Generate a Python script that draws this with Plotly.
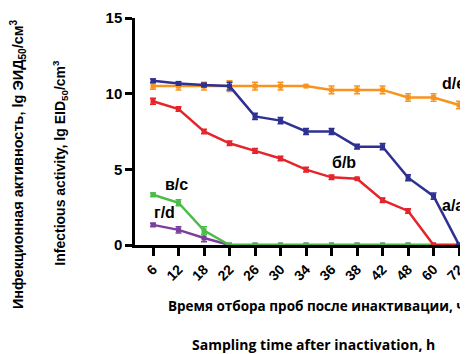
import plotly.graph_objects as go

hours = ["6", "12", "18", "22", "26", "30", "34", "36", "38", "42", "48", "60", "72"]
idx = list(range(len(hours)))

a_vals = [10.85, 10.68, 10.57, 10.5, 8.5, 8.22, 7.5, 7.5, 6.5, 6.5, 4.45, 3.23, 0]
a_err = [0.12, 0.1, 0.12, 0.25, 0.2, 0.2, 0.2, 0.2, 0.15, 0.2, 0.2, 0.2, 0]
b_vals = [9.5, 8.98, 7.5, 6.72, 6.22, 5.72, 4.98, 4.47, 4.38, 2.96, 2.25, 0, 0]
b_err = [0.2, 0.15, 0.15, 0.15, 0.15, 0.15, 0.15, 0.15, 0.05, 0.15, 0.15, 0, 0]
c_vals = [3.32, 2.79, 0.95, 0, 0, 0, 0, 0, 0, 0, 0, 0, 0]
c_err = [0.12, 0.2, 0.25, 0, 0, 0, 0, 0, 0, 0, 0, 0, 0]
d_vals = [1.33, 1.0, 0.46, 0, 0, 0, 0, 0, 0, 0, 0, 0, 0]
d_err = [0.1, 0.2, 0.25, 0, 0, 0, 0, 0, 0, 0, 0, 0, 0]
e_vals = [10.5, 10.5, 10.5, 10.5, 10.5, 10.5, 10.5, 10.25, 10.25, 10.25, 9.75, 9.75, 9.25]
e_err = [0.2, 0.25, 0.25, 0.35, 0.25, 0.25, 0.05, 0.25, 0.25, 0.25, 0.25, 0.25, 0.25]

series = [
    ("г/d", d_vals, d_err, "#7b3f9e"),
    ("в/c", c_vals, c_err, "#4cbb47"),
    ("d/e", e_vals, e_err, "#f7931e"),
    ("б/b", b_vals, b_err, "#e5242b"),
    ("a/a", a_vals, a_err, "#2e3192"),
]

fig = go.Figure()
for name, vals, err, col in series:
    fig.add_trace(go.Scatter(
        x=idx, y=vals, mode="lines+markers", name=name,
        line=dict(color=col, width=2.5),
        marker=dict(color=col, size=5, symbol="square"),
        error_y=dict(type="data", array=err, color=col, thickness=1.5, width=3),
        cliponaxis=False, showlegend=False,
    ))

lab_font = dict(family="Liberation Sans", size=16, color="black")
labels = [
    ("d/e", 11.27, 10.7),
    ("б/b", 6.94, 5.42),
    ("в/с", 0.39, 3.97),
    ("г/d", -0.04, 2.18),
    ("a/a", 11.27, 2.64),
]
for t, x, y in labels:
    fig.add_annotation(x=x, y=y, text="<b>%s</b>" % t, showarrow=False,
                       xanchor="left", yanchor="middle", font=lab_font)

fig.add_annotation(xref="paper", yref="paper", x=-0.351, y=0.357, textangle=-90,
                   xanchor="center", yanchor="middle",
                   text="<b>Инфекционная активность, lg ЭИД<sub>50</sub>/см<sup>3</sup></b>",
                   showarrow=False, font=dict(family="Liberation Sans", size=14.5, color="black"))
fig.add_annotation(xref="paper", yref="paper", x=-0.225, y=0.363, textangle=-90,
                   xanchor="center", yanchor="middle",
                   text="<b>Infectious activity, lg EID<sub>50</sub>/cm<sup>3</sup></b>",
                   showarrow=False, font=dict(family="Liberation Sans", size=14, color="black"))
fig.add_annotation(xref="paper", yref="paper", x=0.544, y=-0.27,
                   xanchor="center", yanchor="middle",
                   text="<b>Время отбора проб после инактивации, ч</b>",
                   showarrow=False, font=dict(family="Open Sans", size=13.5, color="black"))
fig.add_annotation(xref="paper", yref="paper", x=0.536, y=-0.44,
                   xanchor="center", yanchor="middle",
                   text="<b>Sampling time after inactivation, h</b>",
                   showarrow=False, font=dict(family="Open Sans", size=14, color="black"))

fig.update_layout(
    width=460, height=346,
    margin=dict(l=127, r=0, t=10, b=109),
    paper_bgcolor="white", plot_bgcolor="white",
)
fig.update_xaxes(
    range=[-0.706, 12.35], tickmode="array", tickvals=idx, ticktext=["<b>%s</b>" % h for h in hours],
    tickangle=-45, ticks="outside", ticklen=8, tickwidth=2.5, tickcolor="black",
    showline=True, linecolor="black", linewidth=2.5, showgrid=False, zeroline=False,
    tickfont=dict(family="Liberation Sans", size=14, color="black"), automargin=False,
)
fig.update_yaxes(
    range=[0, 15], tickvals=[0, 5, 10, 15], ticktext=["<b>0</b>", "<b>5</b>", "<b>10</b>", "<b>15</b>"],
    ticks="outside", ticklen=7, tickwidth=2.5, tickcolor="black",
    showline=True, linecolor="black", linewidth=2.5, showgrid=False, zeroline=False,
    tickfont=dict(family="Liberation Sans", size=15, color="black"), automargin=False,
)

fig.write_html("out.html")
